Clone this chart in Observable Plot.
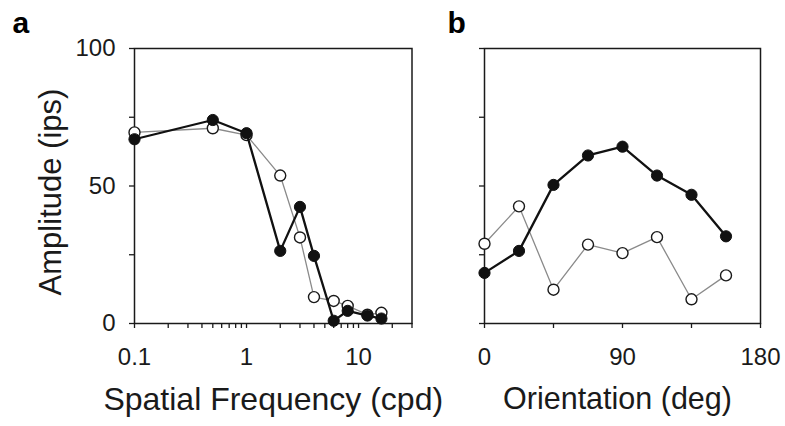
<!DOCTYPE html>
<html><head><meta charset="utf-8">
<script src="https://cdn.jsdelivr.net/npm/d3@7"></script>
<script src="https://cdn.jsdelivr.net/npm/@observablehq/plot@0.6"></script>
<style>
body{margin:0;background:#fff}
#c{position:relative;width:785px;height:426px;overflow:hidden;background:#fff}
#c svg{position:absolute;top:0}
</style>
</head><body><div id="c"></div>
<script>
// Panel a: spatial frequency tuning
const sfFreq   = [0.1, 0.5, 1, 2, 3, 4, 6, 8, 12, 16];
const sfFilled = [67, 74, 69.2, 26.4, 42.4, 24.6, 1, 4.6, 2.9, 1.8];
const sfOpen   = [69.5, 71, 68.5, 53.8, 31.3, 9.6, 8.2, 6.4, 3.2, 3.9];
const sfTicks  = [0.1,0.2,0.3,0.4,0.5,0.6,0.7,0.8,0.9,1,2,3,4,5,6,7,8,9,10,20,30];
const sfLabels = [0.1, 1, 10];

// Panel b: orientation tuning
const ori       = [0, 22.5, 45, 67.5, 90, 112.5, 135, 157.5];
const oriFilled = [18.4, 26.4, 50.4, 61.1, 64.3, 53.8, 46.8, 31.7];
const oriOpen   = [29, 42.6, 12.3, 28.7, 25.6, 31.4, 8.8, 17.5];
const oriTicks  = [0, 45, 90, 135, 180];
const oriLabels = [0, 90, 180];

const yTicks  = [0, 25, 50, 75, 100];
const yLabels = [0, 50, 100];

const FONT = "Liberation Sans, Arial, Helvetica, sans-serif";
const INK = "#1a1a1a";

function panel({left, width, marginLeft, marginRight, xScale, xs, filled, open, xTicks, xLabels, yLab, xTitle, titleSize, letter, letterDx, titleDx}) {
  const rowsF = xs.map((x, i) => ({x, y: filled[i]}));
  const rowsO = xs.map((x, i) => ({x, y: open[i]}));
  const marks = [
    Plot.frame({stroke: INK, strokeWidth: 1.5}),
    Plot.axisY(yTicks, {tickSize: 5, tickPadding: 14, fontSize: 24, strokeWidth: 1.3,
      tickFormat: d => (yLab && yLabels.includes(d)) ? String(d) : "", label: null}),
    Plot.axisX(xTicks, {tickSize: 5, tickPadding: 19, fontSize: 24, strokeWidth: 1.3,
      tickFormat: d => xLabels.includes(d) ? String(d) : "", label: null}),
    Plot.line(rowsO, {x: "x", y: "y", stroke: "#8a8a8a", strokeWidth: 1.3}),
    Plot.dot(rowsO, {x: "x", y: "y", r: 5.5, fill: "#fff", stroke: INK, strokeWidth: 1.4}),
    Plot.line(rowsF, {x: "x", y: "y", stroke: "#111", strokeWidth: 2.3}),
    Plot.dot(rowsF, {x: "x", y: "y", r: 5.6, fill: "#111", stroke: "#111", strokeWidth: 1}),
    Plot.text([xTitle], {text: d => d, frameAnchor: "bottom", textAnchor: "middle", lineAnchor: "middle",
      dy: 76, dx: titleDx, fontSize: titleSize, fill: INK}),
    Plot.text([letter], {text: d => d, frameAnchor: "top-left", textAnchor: "start", lineAnchor: "middle",
      dx: letterDx, dy: -25.6, fontSize: 30, fontWeight: "bold", fill: "#000"})
  ];
  if (yLab) marks.push(Plot.text(["Amplitude (ips)"], {text: d => d, frameAnchor: "left", textAnchor: "middle",
    lineAnchor: "middle", rotate: -90, dx: -83, dy: 6, fontSize: 31, fill: INK}));
  const svg = Plot.plot({
    width, height: 426,
    marginLeft, marginRight, marginTop: 48, marginBottom: 103,
    x: xScale,
    y: {domain: [0, 100], label: null},
    style: {fontFamily: FONT, color: INK, background: "transparent", overflow: "visible"},
    marks
  });
  svg.style.left = left + "px";
  return svg;
}

const c = document.getElementById("c");
c.appendChild(panel({
  left: 0, width: 430, marginLeft: 134, marginRight: 18.5,
  xScale: {type: "log", domain: [0.1, 30], label: null},
  xs: sfFreq, filled: sfFilled, open: sfOpen, xTicks: sfTicks, xLabels: sfLabels,
  yLab: true, xTitle: "Spatial Frequency (cpd)", titleSize: 32, letter: "a", letterDx: -122, titleDx: 0
}));
c.appendChild(panel({
  left: 430, width: 355, marginLeft: 54, marginRight: 25,
  xScale: {type: "linear", domain: [0, 180], label: null},
  xs: ori, filled: oriFilled, open: oriOpen, xTicks: oriTicks, xLabels: oriLabels,
  yLab: false, xTitle: "Orientation (deg)", titleSize: 30.5, letter: "b", letterDx: -37, titleDx: -5
}));
</script>
</body></html>
